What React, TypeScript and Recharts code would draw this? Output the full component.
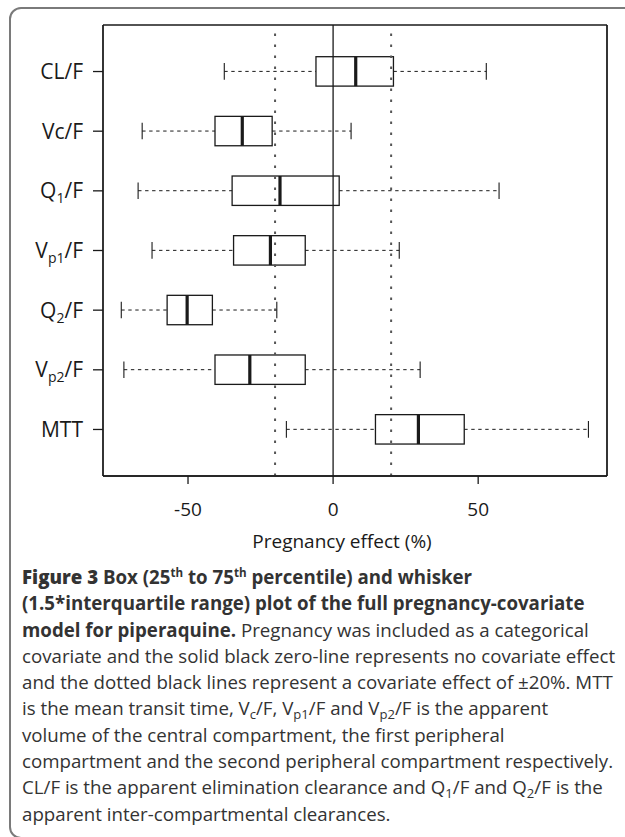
import React from "react";
import {
  ComposedChart,
  Bar,
  XAxis,
  YAxis,
  CartesianGrid,
  ReferenceLine,
} from "recharts";

// parameters, top to bottom
const params = ["CL/F", "Vc/F", "Q1/F", "Vp1/F", "Q2/F", "Vp2/F", "MTT"];
// pregnancy effect (%)
const whiskerLow = [-37.5, -65.8, -67.2, -62.4, -73.0, -72.1, -16.1];
const boxLow = [-5.9, -40.7, -34.8, -34.3, -57.2, -40.7, 14.6];
const medians = [7.8, -31.3, -18.3, -21.6, -50.3, -28.7, 29.4];
const boxHigh = [20.8, -21.0, 2.1, -9.6, -41.6, -9.6, 45.2];
const whiskerHigh = [52.8, 6.2, 57.2, 22.8, -19.4, 30.0, 88.0];

const xTicks = [-50, 0, 50];
const xDomain = [-79.3, 94.4];
const dottedLines = [-20, 20];

const data = params.map((name, i) => ({
  name,
  lo: whiskerLow[i],
  q1: boxLow[i],
  med: medians[i],
  q3: boxHigh[i],
  hi: whiskerHigh[i],
}));

const FONT = "'Open Sans', 'Noto Sans', sans-serif";
const INK = "#1a1a1a";

function BoxShape(props: any) {
  const { x, y, width, height, payload } = props;
  if (x == null || width == null || !payload) return null;
  const left = Math.min(x, x + width);
  const w = Math.abs(width);
  const span = payload.hi - payload.lo;
  // linear scale, so interpolate inside the bar the library placed
  const px = (v: number) => left + ((v - payload.lo) / span) * w;
  const cy = y + height / 2;
  const cap = 8.3;
  return (
    <g>
      <line x1={px(payload.lo)} x2={px(payload.q1)} y1={cy} y2={cy} stroke={INK} strokeWidth={1} strokeDasharray="3.4 3.6" />
      <line x1={px(payload.q3)} x2={px(payload.hi)} y1={cy} y2={cy} stroke={INK} strokeWidth={1} strokeDasharray="3.4 3.6" />
      <line x1={px(payload.lo)} x2={px(payload.lo)} y1={cy - cap} y2={cy + cap} stroke={INK} strokeWidth={1.1} />
      <line x1={px(payload.hi)} x2={px(payload.hi)} y1={cy - cap} y2={cy + cap} stroke={INK} strokeWidth={1.1} />
      <rect x={px(payload.q1)} y={y} width={px(payload.q3) - px(payload.q1)} height={height} fill="none" stroke={INK} strokeWidth={1.3} />
      <line x1={px(payload.med)} x2={px(payload.med)} y1={y} y2={y + height} stroke={INK} strokeWidth={3.2} />
    </g>
  );
}

function ParamTick(props: any) {
  const { x, y, payload } = props;
  const m = String(payload.value).match(/^([A-Z])(p?\d)(\/F)$/);
  return (
    <text x={x - 8} y={y} dy={7.5} textAnchor="end" fontSize={21} fill={INK} fontFamily={FONT}>
      {m ? (
        <>
          {m[1]}
          <tspan fontSize={14} dy={5}>{m[2]}</tspan>
          <tspan dy={-5}>{m[3]}</tspan>
        </>
      ) : (
        payload.value
      )}
    </text>
  );
}

const supStyle: React.CSSProperties = { fontSize: "0.62em", position: "relative", top: "-0.6em", lineHeight: 0 };
const subStyle: React.CSSProperties = { fontSize: "0.7em", position: "relative", top: "0.3em", lineHeight: 0 };
const Sup = ({ children }: { children: React.ReactNode }) => <span style={supStyle}>{children}</span>;
const Sub = ({ children }: { children: React.ReactNode }) => <span style={subStyle}>{children}</span>;

const captionLines: React.ReactNode[] = [
  <>
    <b style={{ fontWeight: 800 }}>Figure 3</b>{" "}
    <b>
      Box (25<Sup>th</Sup> to 75<Sup>th</Sup> percentile) and whisker
    </b>
  </>,
  <b>(1.5*interquartile range) plot of the full pregnancy-covariate</b>,
  <>
    <b>model for piperaquine.</b> Pregnancy was included as a categorical
  </>,
  <>covariate and the solid black zero-line represents no covariate effect</>,
  <>and the dotted black lines represent a covariate effect of ±20%. MTT</>,
  <>
    is the mean transit time, V<Sub>c</Sub>/F, V<Sub>p1</Sub>/F and V<Sub>p2</Sub>/F is the apparent
  </>,
  <>volume of the central compartment, the first peripheral</>,
  <>compartment and the second peripheral compartment respectively.</>,
  <>
    CL/F is the apparent elimination clearance and Q<Sub>1</Sub>/F and Q<Sub>2</Sub>/F is the
  </>,
  <>apparent inter-compartmental clearances.</>,
];

// frame of the plotting region, taken from the chart's own offset
const frameRows = ({ offset }: any) => [offset.top, offset.top + offset.height];
const frameCols = ({ offset }: any) => [offset.left, offset.left + offset.width];

export default function App() {
  return (
    <div style={{ position: "absolute", left: 0, top: 0, width: 625, height: 837, overflow: "hidden", background: "#fff" }}>
      <div
        style={{
          position: "absolute",
          left: 9,
          top: 7,
          width: 700,
          height: 828,
          border: "2px solid #7a7a7a",
          borderRadius: 12,
        }}
      />
      <div style={{ position: "absolute", left: 0, top: 0 }}>
        <ComposedChart
          width={625}
          height={556}
          data={data}
          layout="vertical"
          margin={{ top: 25, right: 18, left: 0, bottom: 0 }}
        >
          <CartesianGrid
            stroke={INK}
            strokeWidth={1.3}
            horizontalCoordinatesGenerator={frameRows}
            verticalCoordinatesGenerator={frameCols}
          />
          <XAxis
            type="number"
            domain={xDomain}
            ticks={xTicks}
            allowDataOverflow
            tickSize={8}
            tickMargin={19}
            height={80}
            axisLine={{ stroke: INK, strokeWidth: 1.3 }}
            tickLine={{ stroke: INK, strokeWidth: 1.3 }}
            tick={{ fontSize: 19, fill: INK, fontFamily: FONT }}
            label={{
              value: "Pregnancy effect (%)",
              position: "insideBottom",
              offset: 8,
              dx: -13,
              fontSize: 19,
              fill: INK,
              fontFamily: FONT,
            }}
          />
          <YAxis
            type="category"
            dataKey="name"
            width={103}
            tickSize={10}
            padding={{ top: 16.7, bottom: 16.7 }}
            axisLine={{ stroke: INK, strokeWidth: 1.3 }}
            tickLine={{ stroke: INK, strokeWidth: 1.3 }}
            tick={<ParamTick />}
          />
          <ReferenceLine x={xDomain[1]} stroke={INK} strokeWidth={1.3} />
          {dottedLines.map((v) => (
            <ReferenceLine key={v} x={v} stroke="#555" strokeWidth={2} strokeDasharray="2.5 8.5" />
          ))}
          <ReferenceLine x={0} stroke={INK} strokeWidth={1.3} />
          <Bar
            dataKey={(d: any) => [d.lo, d.hi]}
            barSize={29.4}
            shape={BoxShape}
            isAnimationActive={false}
          />
        </ComposedChart>
      </div>
      <div
        style={{
          position: "absolute",
          left: 22,
          top: 564,
          fontFamily: FONT,
          fontSize: 18.7,
          lineHeight: "26.3px",
          color: "#333",
          whiteSpace: "nowrap",
        }}
      >
        {captionLines.map((line, i) => (
          <div key={i} style={{ height: 26.3 }}>
            {line}
          </div>
        ))}
      </div>
    </div>
  );
}
